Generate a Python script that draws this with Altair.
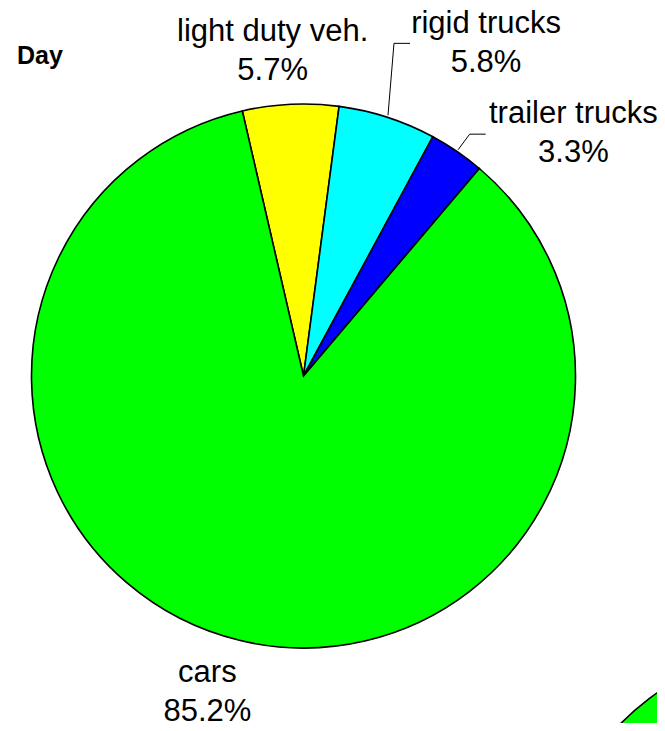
import math
import numpy as np
import pandas as pd
import altair as alt

# ---- data ----
categories = ["light duty veh.", "rigid trucks", "trailer trucks", "cars"]
shares = [5.7, 5.8, 3.3, 85.2]
colors = ["#FFFF00", "#00FFFF", "#0000FF", "#00FF00"]
panel_title = "Day"

# ---- layout constants ----
W, H = 649, 715
CX, CY = 295.5, 368.0          # centre of the "Day" pie (plot coords)
R = 272                        # pie radius
CX2, CY2 = 806.0, 907.0        # centre of the next (cut-off) pie
START_DEG = -13.0              # first slice starts a little left of 12 o'clock
FONT = "Liberation Sans"
LABEL_R = 310

total = float(sum(shares))
start = math.radians(START_DEG)
theta_scale = alt.Scale(domain=[0, total], range=[start, start + 2 * math.pi])

df = pd.DataFrame({
    "category": categories,
    "share": shares,
    "order": list(range(len(categories))),
    "label": [f"{c}\n{s:.1f}%" for c, s in zip(categories, shares)],
})

color_scale = alt.Scale(domain=categories, range=colors)


def pie_layer(cx, cy):
    return alt.Chart(df).mark_arc(outerRadius=R, stroke="black", strokeWidth=1.6).encode(
        theta=alt.Theta("share:Q", stack=True, scale=theta_scale),
        color=alt.Color("category:N", scale=color_scale, legend=None),
        order=alt.Order("order:Q", sort="ascending"),
        x=alt.value(cx),
        y=alt.value(cy),
    )


def label_layer(cat, dx, dy):
    return (
        alt.Chart(df)
        .transform_window(cum="sum(share)", sort=[alt.SortField("order")], frame=[None, 0])
        .transform_calculate(mid="datum.cum - datum.share / 2")
        .transform_filter(alt.datum.category == cat)
        .mark_text(radius=LABEL_R, dx=dx, dy=dy, font=FONT, fontSize=31,
                   align="center", baseline="alphabetic", lineBreak="\n",
                   lineHeight=39, color="black")
        .encode(
            theta=alt.Theta("mid:Q", scale=theta_scale),
            text="label:N",
            x=alt.value(CX),
            y=alt.value(CY),
        )
    )


# leader lines for the two labels pushed to the right
cum = np.cumsum(shares)
mid = cum - np.array(shares) / 2
ang = np.radians(START_DEG + mid / total * 360.0)
leader_r = R + 2
elbows = {"rigid trucks": (6, -72), "trailer trucks": (11.6, -15.6)}
rows = []
for i, c in enumerate(categories):
    if c in elbows:
        sx = CX + leader_r * math.sin(ang[i])
        sy = CY - leader_r * math.cos(ang[i])
        ex, ey = sx + elbows[c][0], sy + elbows[c][1]
        rows.append({"x": sx, "y": sy, "x2": ex, "y2": ey})
        rows.append({"x": ex, "y": ey, "x2": ex + 16, "y2": ey})
leaders_df = pd.DataFrame(rows)

leaders = alt.Chart(leaders_df).mark_rule(color="black", strokeWidth=1).encode(
    x=alt.X("x:Q", scale=None),
    y=alt.Y("y:Q", scale=None),
    x2="x2:Q",
    y2="y2:Q",
)

title = alt.Chart(pd.DataFrame({"t": [panel_title]})).mark_text(
    font=FONT, fontSize=25, fontWeight="bold", align="center", baseline="alphabetic", color="black"
).encode(text="t:N", x=alt.value(32), y=alt.value(56))

chart = alt.layer(
    pie_layer(CX2, CY2),
    pie_layer(CX, CY),
    leaders,
    label_layer("light duty veh.", -16, -25),
    label_layer("rigid trucks", 87, -48),
    label_layer("trailer trucks", 95, 3),
    label_layer("cars", -23, 5),
    title,
).properties(
    width=W, height=H, padding=0,
    autosize=alt.AutoSizeParams(type="none"),
).configure_view(stroke=None)

chart.save("out.html", embed_options={"renderer": "svg", "actions": False})
